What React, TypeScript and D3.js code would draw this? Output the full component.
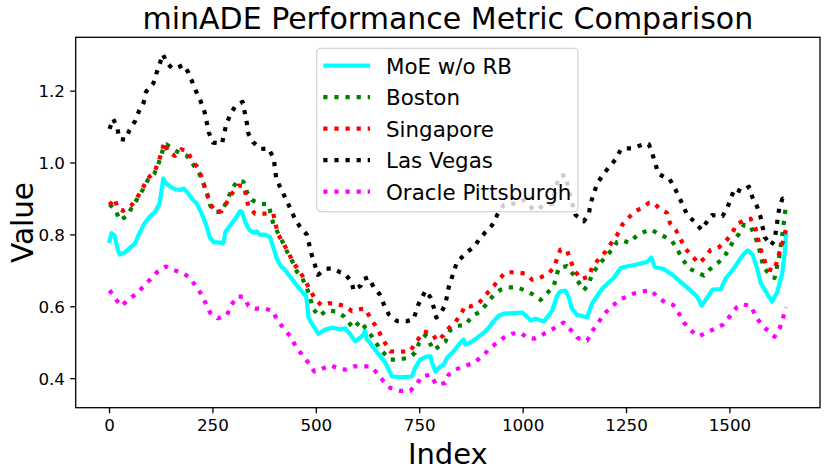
import React from "react";
import * as d3 from "d3";

const W = 830;
const H = 474;
const box = { left: 75.7, right: 820, top: 37.3, bottom: 407.7 };
const FONT = "DejaVu Sans, sans-serif";

const xTicks = [0, 250, 500, 750, 1000, 1250, 1500];
const yTicks = [0.4, 0.6, 0.8, 1.0, 1.2];

// MoE w/o RB
const moeIdx = [0, 5, 12, 20, 25, 38, 62, 70, 84, 98, 110, 121, 130, 137, 147, 159, 171, 179, 187, 199, 211, 223, 234, 242, 251, 276, 280, 292, 304, 316, 320, 328, 338, 348, 356, 362, 376, 388, 397, 405, 413, 426, 441, 453, 465, 475, 478, 481, 493, 505, 522, 539, 558, 570, 582, 594, 606, 614, 618, 622, 630, 638, 655, 667, 683, 703, 731, 739, 751, 768, 776, 780, 788, 796, 808, 816, 832, 848, 856, 860, 872, 889, 905, 917, 929, 941, 953, 998, 1010, 1018, 1030, 1050, 1062, 1070, 1082, 1090, 1102, 1110, 1118, 1131, 1155, 1167, 1191, 1219, 1236, 1250, 1272, 1300, 1310, 1318, 1340, 1360, 1385, 1405, 1420, 1432, 1445, 1458, 1478, 1490, 1505, 1520, 1532, 1543, 1555, 1565, 1575, 1588, 1602, 1614, 1626, 1632, 1636];
const moeVal = [0.783, 0.805, 0.798, 0.759, 0.745, 0.752, 0.777, 0.799, 0.831, 0.852, 0.864, 0.887, 0.957, 0.943, 0.934, 0.927, 0.925, 0.929, 0.92, 0.901, 0.887, 0.859, 0.827, 0.794, 0.78, 0.778, 0.808, 0.827, 0.845, 0.866, 0.864, 0.836, 0.814, 0.806, 0.81, 0.801, 0.801, 0.794, 0.761, 0.733, 0.715, 0.7, 0.677, 0.659, 0.643, 0.63, 0.607, 0.57, 0.546, 0.525, 0.537, 0.542, 0.537, 0.54, 0.523, 0.504, 0.514, 0.523, 0.534, 0.509, 0.5, 0.486, 0.462, 0.444, 0.406, 0.404, 0.406, 0.43, 0.453, 0.462, 0.462, 0.444, 0.42, 0.43, 0.439, 0.458, 0.476, 0.5, 0.509, 0.495, 0.5, 0.514, 0.528, 0.542, 0.56, 0.575, 0.581, 0.584, 0.572, 0.562, 0.567, 0.559, 0.576, 0.589, 0.63, 0.643, 0.645, 0.628, 0.595, 0.577, 0.571, 0.61, 0.65, 0.68, 0.708, 0.712, 0.717, 0.725, 0.737, 0.711, 0.705, 0.69, 0.665, 0.645, 0.63, 0.603, 0.625, 0.648, 0.649, 0.68, 0.7, 0.725, 0.745, 0.757, 0.745, 0.71, 0.665, 0.64, 0.614, 0.64, 0.69, 0.745, 0.805];

// Boston
const bostonIdx = [0, 15, 24, 42, 55, 67, 80, 92, 108, 118, 126, 132, 137, 153, 171, 187, 204, 217, 227, 237, 243, 254, 271, 285, 296, 309, 324, 332, 344, 364, 384, 396, 409, 421, 431, 443, 453, 465, 477, 493, 507, 525, 547, 566, 590, 606, 630, 655, 679, 699, 723, 739, 748, 764, 784, 800, 812, 824, 840, 860, 876, 897, 913, 929, 945, 965, 985, 1006, 1026, 1042, 1058, 1074, 1086, 1106, 1122, 1147, 1159, 1167, 1183, 1199, 1215, 1227, 1240, 1256, 1276, 1292, 1310, 1324, 1344, 1360, 1374, 1387, 1401, 1419, 1437, 1452, 1470, 1486, 1500, 1510, 1522, 1534, 1550, 1562, 1570, 1581, 1598, 1608, 1619, 1627, 1633, 1636];
const bostonVal = [0.885, 0.869, 0.841, 0.852, 0.878, 0.9, 0.925, 0.952, 0.97, 0.997, 1.025, 1.05, 1.052, 1.039, 1.027, 1.02, 0.993, 0.971, 0.943, 0.911, 0.883, 0.864, 0.864, 0.898, 0.927, 0.951, 0.948, 0.92, 0.897, 0.887, 0.885, 0.831, 0.801, 0.775, 0.749, 0.724, 0.698, 0.682, 0.654, 0.593, 0.574, 0.59, 0.587, 0.574, 0.54, 0.56, 0.525, 0.481, 0.453, 0.453, 0.458, 0.472, 0.498, 0.521, 0.479, 0.493, 0.503, 0.535, 0.547, 0.549, 0.573, 0.587, 0.61, 0.633, 0.647, 0.654, 0.654, 0.645, 0.633, 0.619, 0.638, 0.657, 0.708, 0.713, 0.689, 0.646, 0.665, 0.691, 0.717, 0.738, 0.759, 0.78, 0.785, 0.778, 0.799, 0.808, 0.815, 0.805, 0.794, 0.783, 0.757, 0.73, 0.707, 0.696, 0.687, 0.705, 0.721, 0.738, 0.766, 0.786, 0.803, 0.828, 0.824, 0.792, 0.766, 0.71, 0.687, 0.68, 0.738, 0.803, 0.859, 0.887];

// Singapore
const singaporeIdx = [0, 12, 20, 33, 52, 67, 80, 92, 108, 118, 126, 132, 141, 158, 173, 187, 199, 215, 225, 235, 243, 257, 271, 282, 296, 312, 325, 336, 352, 396, 401, 409, 421, 433, 445, 459, 471, 484, 497, 512, 530, 550, 570, 586, 602, 618, 630, 646, 663, 679, 699, 727, 740, 760, 780, 792, 808, 820, 836, 852, 860, 872, 893, 909, 925, 941, 957, 985, 1006, 1022, 1038, 1058, 1074, 1090, 1106, 1123, 1140, 1159, 1167, 1183, 1198, 1213, 1227, 1240, 1253, 1268, 1288, 1304, 1315, 1328, 1348, 1355, 1369, 1393, 1409, 1425, 1441, 1453, 1474, 1490, 1506, 1515, 1532, 1550, 1562, 1574, 1591, 1607, 1620, 1629, 1636];
const singaporeVal = [0.883, 0.901, 0.873, 0.867, 0.881, 0.904, 0.929, 0.957, 0.974, 1.001, 1.03, 1.058, 1.032, 1.02, 1.038, 1.035, 1.009, 0.985, 0.953, 0.915, 0.887, 0.864, 0.866, 0.887, 0.915, 0.937, 0.936, 0.878, 0.859, 0.859, 0.831, 0.799, 0.775, 0.75, 0.721, 0.7, 0.677, 0.649, 0.621, 0.605, 0.61, 0.607, 0.602, 0.588, 0.593, 0.595, 0.57, 0.542, 0.505, 0.476, 0.475, 0.476, 0.5, 0.531, 0.526, 0.505, 0.521, 0.54, 0.557, 0.585, 0.603, 0.601, 0.61, 0.633, 0.652, 0.675, 0.696, 0.696, 0.692, 0.675, 0.68, 0.689, 0.708, 0.759, 0.757, 0.703, 0.677, 0.684, 0.71, 0.733, 0.752, 0.777, 0.799, 0.829, 0.845, 0.864, 0.876, 0.889, 0.89, 0.875, 0.861, 0.833, 0.814, 0.761, 0.74, 0.721, 0.738, 0.758, 0.766, 0.783, 0.805, 0.829, 0.839, 0.845, 0.817, 0.761, 0.705, 0.7, 0.752, 0.785, 0.82];

// Las Vegas
const lasVegasIdx = [0, 9, 19, 24, 38, 48, 62, 71, 83, 88, 106, 113, 121, 129, 138, 150, 163, 179, 191, 201, 211, 221, 230, 240, 250, 272, 282, 292, 305, 322, 332, 336, 347, 366, 384, 397, 403, 414, 426, 436, 447, 459, 477, 489, 504, 522, 538, 558, 570, 586, 590, 608, 614, 626, 639, 653, 663, 675, 695, 719, 735, 747, 764, 776, 784, 790, 804, 812, 820, 832, 840, 852, 864, 881, 893, 909, 925, 937, 953, 973, 985, 1002, 1026, 1038, 1050, 1070, 1086, 1102, 1114, 1127, 1147, 1159, 1163, 1171, 1179, 1193, 1207, 1223, 1236, 1244, 1264, 1288, 1304, 1312, 1320, 1326, 1340, 1353, 1365, 1377, 1397, 1415, 1431, 1444, 1457, 1482, 1494, 1511, 1528, 1546, 1554, 1566, 1574, 1584, 1599, 1608, 1619, 1627, 1636];
const lasVegasVal = [1.095, 1.123, 1.096, 1.067, 1.065, 1.091, 1.117, 1.144, 1.17, 1.198, 1.222, 1.248, 1.275, 1.303, 1.281, 1.265, 1.265, 1.273, 1.251, 1.223, 1.195, 1.17, 1.141, 1.085, 1.057, 1.054, 1.107, 1.135, 1.16, 1.17, 1.111, 1.081, 1.058, 1.039, 1.041, 1.013, 0.957, 0.929, 0.901, 0.876, 0.848, 0.825, 0.801, 0.744, 0.689, 0.705, 0.707, 0.696, 0.691, 0.668, 0.645, 0.659, 0.677, 0.682, 0.654, 0.635, 0.607, 0.579, 0.56, 0.56, 0.565, 0.607, 0.645, 0.626, 0.598, 0.57, 0.589, 0.607, 0.654, 0.696, 0.724, 0.738, 0.752, 0.766, 0.786, 0.808, 0.827, 0.855, 0.883, 0.887, 0.887, 0.897, 0.869, 0.873, 0.883, 0.887, 0.962, 0.967, 0.906, 0.855, 0.838, 0.859, 0.887, 0.915, 0.943, 0.967, 0.988, 1.009, 1.037, 1.041, 1.041, 1.051, 1.052, 1.027, 0.999, 0.971, 0.962, 0.957, 0.934, 0.906, 0.855, 0.836, 0.814, 0.836, 0.855, 0.852, 0.876, 0.929, 0.92, 0.934, 0.906, 0.878, 0.85, 0.794, 0.771, 0.785, 0.873, 0.901, 0.893];

// Oracle Pittsburgh
const pittsburghIdx = [0, 15, 29, 46, 66, 84, 100, 117, 136, 155, 173, 191, 207, 222, 243, 262, 284, 294, 308, 324, 336, 352, 372, 394, 406, 421, 437, 449, 465, 481, 495, 513, 534, 554, 570, 590, 630, 647, 663, 679, 703, 727, 742, 755, 776, 790, 812, 820, 836, 856, 881, 901, 921, 937, 953, 973, 993, 1010, 1026, 1042, 1058, 1078, 1098, 1114, 1131, 1145, 1155, 1167, 1183, 1195, 1215, 1234, 1252, 1268, 1288, 1310, 1326, 1344, 1363, 1377, 1389, 1405, 1425, 1444, 1465, 1484, 1500, 1516, 1532, 1552, 1562, 1578, 1597, 1608, 1621, 1636];
const pittsburghVal = [0.646, 0.621, 0.602, 0.621, 0.637, 0.659, 0.678, 0.699, 0.712, 0.702, 0.696, 0.684, 0.66, 0.635, 0.584, 0.568, 0.577, 0.604, 0.628, 0.628, 0.603, 0.595, 0.596, 0.589, 0.562, 0.54, 0.518, 0.493, 0.467, 0.444, 0.42, 0.427, 0.437, 0.428, 0.425, 0.434, 0.434, 0.416, 0.392, 0.374, 0.366, 0.366, 0.383, 0.406, 0.411, 0.383, 0.388, 0.411, 0.425, 0.434, 0.444, 0.462, 0.486, 0.5, 0.514, 0.525, 0.528, 0.514, 0.511, 0.519, 0.53, 0.542, 0.556, 0.537, 0.514, 0.507, 0.506, 0.532, 0.558, 0.579, 0.601, 0.621, 0.628, 0.637, 0.643, 0.645, 0.626, 0.612, 0.605, 0.581, 0.556, 0.534, 0.518, 0.528, 0.54, 0.551, 0.574, 0.598, 0.607, 0.601, 0.573, 0.548, 0.528, 0.517, 0.542, 0.598];

const series = [
  { label: "MoE w/o RB", color: "#00ffff", dotted: false, idx: moeIdx, val: moeVal },
  { label: "Boston", color: "#008000", dotted: true, idx: bostonIdx, val: bostonVal },
  { label: "Singapore", color: "#ff0000", dotted: true, idx: singaporeIdx, val: singaporeVal },
  { label: "Las Vegas", color: "#000000", dotted: true, idx: lasVegasIdx, val: lasVegasVal },
  { label: "Oracle Pittsburgh", color: "#ff00ff", dotted: true, idx: pittsburghIdx, val: pittsburghVal },
];

const LW = 4.2;
const DASH = "4.2 6.9";

export default function App() {
  const allX = series.flatMap((s) => s.idx);
  const allY = series.flatMap((s) => s.val);
  const [x0, x1] = d3.extent(allX) as [number, number];
  const [y0, y1] = d3.extent(allY) as [number, number];
  const xPad = (x1 - x0) * 0.05;
  const yPad = (y1 - y0) * 0.05;

  const x = d3.scaleLinear().domain([x0 - xPad, x1 + xPad]).range([box.left, box.right]);
  const y = d3.scaleLinear().domain([y0 - yPad, y1 + yPad]).range([box.bottom, box.top]);

  const line = d3
    .line<[number, number]>()
    .x((d) => x(d[0]))
    .y((d) => y(d[1]));

  const cx = (box.left + box.right) / 2;
  const fmt = d3.format(".1f");

  // legend box
  const lg = { left: 316.7, top: 48.3, right: 578, bottom: 211.7 };
  const rowY = (i: number) => 65.7 + i * 31.5;

  return (
    <svg
      width={W}
      height={H}
      style={{ position: "absolute", left: 0, top: 0, background: "#fff" }}
      fontFamily={FONT}
    >
      <defs>
        <clipPath id="plot">
          <rect x={box.left} y={box.top} width={box.right - box.left} height={box.bottom - box.top} />
        </clipPath>
      </defs>
      <rect width={W} height={H} fill="#fff" />

      <g clipPath="url(#plot)">
        {series.map((s) => (
          <path
            key={s.label}
            d={line(d3.zip(s.idx, s.val) as [number, number][]) ?? ""}
            fill="none"
            stroke={s.color}
            strokeWidth={LW}
            strokeDasharray={s.dotted ? DASH : undefined}
            strokeLinejoin="round"
            strokeLinecap={s.dotted ? "butt" : "square"}
          />
        ))}
      </g>

      <rect
        x={box.left}
        y={box.top}
        width={box.right - box.left}
        height={box.bottom - box.top}
        fill="none"
        stroke="#000"
        strokeWidth={1.3}
      />

      {xTicks.map((t) => (
        <g key={t}>
          <line x1={x(t)} x2={x(t)} y1={box.bottom} y2={box.bottom + 5.5} stroke="#000" strokeWidth={1.3} />
          <text x={x(t)} y={431} textAnchor="middle" fontSize={16.7}>
            {t}
          </text>
        </g>
      ))}
      {yTicks.map((t) => (
        <g key={t}>
          <line x1={box.left - 5.5} x2={box.left} y1={y(t)} y2={y(t)} stroke="#000" strokeWidth={1.3} />
          <text x={65} y={y(t) + 6} textAnchor="end" fontSize={16.7}>
            {fmt(t)}
          </text>
        </g>
      ))}

      <text x={cx} y={29} textAnchor="middle" fontSize={30}>
        minADE Performance Metric Comparison
      </text>
      <text x={cx} y={464} textAnchor="middle" fontSize={29}>
        Index
      </text>
      <text
        transform={`translate(32.5, ${(box.top + box.bottom) / 2}) rotate(-90)`}
        textAnchor="middle"
        fontSize={29.5}
      >
        Value
      </text>

      <rect
        x={lg.left}
        y={lg.top}
        width={lg.right - lg.left}
        height={lg.bottom - lg.top}
        rx={4}
        fill="#fff"
        fillOpacity={0.8}
        stroke="#cccccc"
        strokeWidth={1.1}
      />
      {series.map((s, i) => (
        <g key={s.label}>
          <line
            x1={323.3}
            x2={370}
            y1={rowY(i)}
            y2={rowY(i)}
            stroke={s.color}
            strokeWidth={LW}
            strokeDasharray={s.dotted ? DASH : undefined}
          />
          <text x={386} y={rowY(i) + 8.2} fontSize={21.4}>
            {s.label}
          </text>
        </g>
      ))}
    </svg>
  );
}
